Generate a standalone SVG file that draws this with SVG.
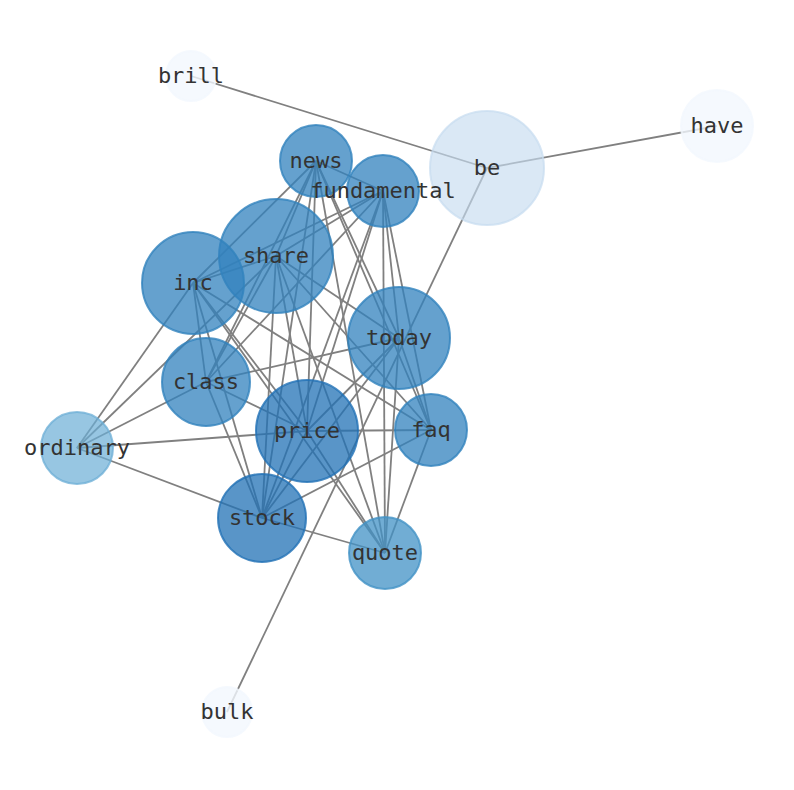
<svg xmlns="http://www.w3.org/2000/svg" width="794" height="790" viewBox="0 0 794 790">
<style>
.e{stroke:#808080;stroke-width:1.8;fill:none}
.n circle{stroke-width:2}
.c1{fill:#3182bd;fill-opacity:0.75;stroke:#3182bd;stroke-opacity:0.8}
.c2{fill:#2171b5;fill-opacity:0.75;stroke:#2171b5;stroke-opacity:0.8}
.c3{fill:#4292c6;fill-opacity:0.75;stroke:#4292c6;stroke-opacity:0.8}
.c4{fill:#6baed6;fill-opacity:0.7;stroke:#6baed6;stroke-opacity:0.75}
.c5{fill:#c6dbef;fill-opacity:0.65;stroke:#c6dbef;stroke-opacity:0.7}
.c6{fill:#f3f8fe;fill-opacity:0.8;stroke:#f3f8fe;stroke-opacity:0.8}
text{font-family:"DejaVu Sans Mono","Liberation Mono",monospace;font-size:22px;fill:#333333;text-anchor:middle}
</style>
<rect width="794" height="790" fill="#ffffff"/>
<g id="edges">
<line class="e" x1="191" y1="76" x2="487" y2="168"/>
<line class="e" x1="717" y1="126" x2="487" y2="168"/>
<line class="e" x1="227" y1="712" x2="487" y2="168"/>
<line class="e" x1="316" y1="161" x2="383" y2="191"/>
<line class="e" x1="316" y1="161" x2="276" y2="256"/>
<line class="e" x1="316" y1="161" x2="193" y2="283"/>
<line class="e" x1="316" y1="161" x2="206" y2="382"/>
<line class="e" x1="316" y1="161" x2="307" y2="431"/>
<line class="e" x1="316" y1="161" x2="262" y2="518"/>
<line class="e" x1="316" y1="161" x2="385" y2="553"/>
<line class="e" x1="316" y1="161" x2="399" y2="338"/>
<line class="e" x1="316" y1="161" x2="431" y2="430"/>
<line class="e" x1="383" y1="191" x2="276" y2="256"/>
<line class="e" x1="383" y1="191" x2="193" y2="283"/>
<line class="e" x1="383" y1="191" x2="206" y2="382"/>
<line class="e" x1="383" y1="191" x2="307" y2="431"/>
<line class="e" x1="383" y1="191" x2="262" y2="518"/>
<line class="e" x1="383" y1="191" x2="399" y2="338"/>
<line class="e" x1="383" y1="191" x2="431" y2="430"/>
<line class="e" x1="383" y1="191" x2="385" y2="553"/>
<line class="e" x1="276" y1="256" x2="193" y2="283"/>
<line class="e" x1="276" y1="256" x2="399" y2="338"/>
<line class="e" x1="276" y1="256" x2="206" y2="382"/>
<line class="e" x1="276" y1="256" x2="307" y2="431"/>
<line class="e" x1="276" y1="256" x2="431" y2="430"/>
<line class="e" x1="276" y1="256" x2="262" y2="518"/>
<line class="e" x1="276" y1="256" x2="385" y2="553"/>
<line class="e" x1="276" y1="256" x2="77" y2="448"/>
<line class="e" x1="193" y1="283" x2="206" y2="382"/>
<line class="e" x1="193" y1="283" x2="307" y2="431"/>
<line class="e" x1="193" y1="283" x2="262" y2="518"/>
<line class="e" x1="193" y1="283" x2="385" y2="553"/>
<line class="e" x1="193" y1="283" x2="431" y2="430"/>
<line class="e" x1="193" y1="283" x2="77" y2="448"/>
<line class="e" x1="399" y1="338" x2="206" y2="382"/>
<line class="e" x1="399" y1="338" x2="307" y2="431"/>
<line class="e" x1="399" y1="338" x2="262" y2="518"/>
<line class="e" x1="399" y1="338" x2="431" y2="430"/>
<line class="e" x1="399" y1="338" x2="385" y2="553"/>
<line class="e" x1="206" y1="382" x2="307" y2="431"/>
<line class="e" x1="206" y1="382" x2="262" y2="518"/>
<line class="e" x1="206" y1="382" x2="77" y2="448"/>
<line class="e" x1="307" y1="431" x2="431" y2="430"/>
<line class="e" x1="307" y1="431" x2="262" y2="518"/>
<line class="e" x1="307" y1="431" x2="385" y2="553"/>
<line class="e" x1="307" y1="431" x2="77" y2="448"/>
<line class="e" x1="431" y1="430" x2="262" y2="518"/>
<line class="e" x1="431" y1="430" x2="385" y2="553"/>
<line class="e" x1="262" y1="518" x2="385" y2="553"/>
<line class="e" x1="262" y1="518" x2="77" y2="448"/>
</g>
<g id="node-brill" class="n"><circle class="c6" cx="191" cy="76" r="25"/><text x="191" y="83">brill</text></g>
<g id="node-have" class="n"><circle class="c6" cx="717" cy="126" r="36"/><text x="717" y="133">have</text></g>
<g id="node-bulk" class="n"><circle class="c6" cx="227" cy="712" r="25"/><text x="227" y="719">bulk</text></g>
<g id="node-be" class="n"><circle class="c5" cx="487" cy="168" r="57"/><text x="487" y="175">be</text></g>
<g id="node-ordinary" class="n"><circle class="c4" cx="77" cy="448" r="36"/><text x="77" y="455">ordinary</text></g>
<g id="node-news" class="n"><circle class="c1" cx="316" cy="161" r="36"/><text x="316" y="168">news</text></g>
<g id="node-fundamental" class="n"><circle class="c1" cx="383" cy="191" r="36"/><text x="383" y="198">fundamental</text></g>
<g id="node-share" class="n"><circle class="c1" cx="276" cy="256" r="57"/><text x="276" y="263">share</text></g>
<g id="node-inc" class="n"><circle class="c1" cx="193" cy="283" r="51"/><text x="193" y="290">inc</text></g>
<g id="node-today" class="n"><circle class="c1" cx="399" cy="338" r="51"/><text x="399" y="345">today</text></g>
<g id="node-class" class="n"><circle class="c1" cx="206" cy="382" r="44"/><text x="206" y="389">class</text></g>
<g id="node-price" class="n"><circle class="c2" cx="307" cy="431" r="51"/><text x="307" y="438">price</text></g>
<g id="node-faq" class="n"><circle class="c1" cx="431" cy="430" r="36"/><text x="431" y="437">faq</text></g>
<g id="node-stock" class="n"><circle class="c2" cx="262" cy="518" r="44"/><text x="262" y="525">stock</text></g>
<g id="node-quote" class="n"><circle class="c3" cx="385" cy="553" r="36"/><text x="385" y="560">quote</text></g>
</svg>
